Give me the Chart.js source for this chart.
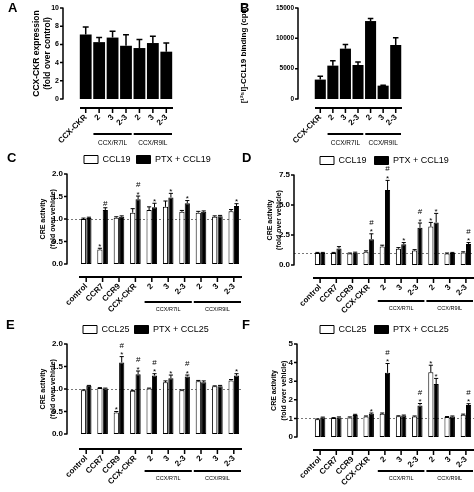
<!DOCTYPE html>
<html><head><meta charset="utf-8">
<script src="https://cdn.jsdelivr.net/npm/chart.js@4.4.0/dist/chart.umd.min.js"></script>
<style>
html,body{margin:0;padding:0;background:#fff;}
#fig{position:relative;width:474px;height:492px;overflow:hidden;background:#fff;}
canvas{position:absolute;}
.lt{position:absolute;font:bold 13px "Liberation Sans",Arial,sans-serif;color:#000;line-height:15px;}
</style></head><body>
<div id="fig">
<canvas id="cA"></canvas><canvas id="cB"></canvas>
<canvas id="cC"></canvas><canvas id="cD"></canvas>
<canvas id="cE"></canvas><canvas id="cF"></canvas>
<div class="lt" style="left:8px;top:0px">A</div>
<div class="lt" style="left:240px;top:0px">B</div>
<div class="lt" style="left:7px;top:150px">C</div>
<div class="lt" style="left:242px;top:150px">D</div>
<div class="lt" style="left:6px;top:317px">E</div>
<div class="lt" style="left:242px;top:317px">F</div>
</div>
<script>
// ---------- DATA ----------
const abLabels = ["CCX-CKR", "2", "3", "2-3", "2", "3", "2-3"];
const aExpression = [7.1, 6.25, 6.75, 5.85, 5.6, 6.15, 5.2];
const aExpressionErr = [0.8, 0.5, 0.7, 1.2, 0.95, 0.75, 0.95];
const bBinding = [3200, 5500, 8300, 5600, 12850, 2200, 8900];
const bBindingErr = [550, 800, 700, 500, 400, 60, 1200];

const cdefLabels = ["control", "CCR7", "CCR9", "CCX-CKR", "2", "3", "2-3", "2", "3", "2-3"];
const groupNames = ["CCX/R7IL", "CCX/R9IL"];

const cCCL19 = [1.0, 0.32, 1.03, 1.14, 1.2, 1.27, 1.16, 1.14, 1.05, 1.17];
const cCCL19Err = [0.02, 0.03, 0.02, 0.09, 0.07, 0.13, 0.03, 0.03, 0.02, 0.04];
const cCCL19Sig = ["", "*", "", "", "", "", "", "", "", ""];
const cPTX = [1.02, 1.2, 1.05, 1.44, 1.26, 1.48, 1.35, 1.16, 1.06, 1.29];
const cPTXErr = [0.02, 0.05, 0.02, 0.07, 0.09, 0.09, 0.06, 0.02, 0.02, 0.05];
const cPTXSig = ["", "#", "", "#*", "*", "*", "*", "", "", "*"];

const dCCL19 = [1.0, 1.0, 0.95, 1.1, 1.55, 1.35, 1.2, 3.2, 0.95, 1.05];
const dCCL19Err = [0.05, 0.05, 0.05, 0.08, 0.1, 0.1, 0.08, 0.35, 0.05, 0.05];
const dCCL19Sig = ["", "", "", "", "", "", "", "*", "", ""];
const dPTX = [1.0, 1.38, 1.02, 2.15, 6.25, 1.72, 3.1, 3.55, 1.0, 1.75];
const dPTXErr = [0.05, 0.15, 0.05, 0.45, 0.8, 0.15, 0.4, 0.75, 0.05, 0.12];
const dPTXSig = ["", "", "", "#*", "#*", "*", "#*", "*", "", "#*"];

const eCCL25 = [0.97, 1.02, 0.48, 0.96, 1.01, 1.15, 0.97, 1.17, 1.06, 1.19];
const eCCL25Err = [0.01, 0.01, 0.02, 0.01, 0.01, 0.03, 0.01, 0.02, 0.01, 0.02];
const eCCL25Sig = ["", "", "*", "", "", "", "", "", "", ""];
const ePTX = [1.07, 1.01, 1.59, 1.33, 1.3, 1.24, 1.28, 1.15, 1.06, 1.3];
const ePTXErr = [0.01, 0.01, 0.13, 0.07, 0.04, 0.07, 0.03, 0.03, 0.02, 0.04];
const ePTXSig = ["", "", "#*", "#*", "#*", "*", "#*", "", "", "*"];

const fCCL25 = [0.95, 1.02, 1.05, 1.1, 1.25, 1.12, 1.1, 3.48, 1.08, 1.2];
const fCCL25Err = [0.02, 0.02, 0.03, 0.03, 0.04, 0.02, 0.03, 0.38, 0.02, 0.03];
const fCCL25Sig = ["", "", "", "", "", "", "", "*", "", ""];
const fPTX = [1.05, 1.05, 1.18, 1.25, 3.45, 1.15, 1.7, 2.85, 1.1, 1.72];
const fPTXErr = [0.02, 0.03, 0.04, 0.04, 0.5, 0.03, 0.1, 0.3, 0.03, 0.07];
const fPTXSig = ["", "", "", "*", "#*", "", "#*", "*", "", "#*"];

const aYTicks = [0, 2, 4, 6, 8, 10];
const bYTicks = [0, 5000, 10000, 15000];
const ceYTicks = [0, 0.5, 1.0, 1.5, 2.0];
const dYTicks = [0, 2.5, 5.0, 7.5];
const fYTicks = [0, 1, 2, 3, 4, 5];

// ---------- RENDERING ----------
const FAM = '"Liberation Sans", Arial, sans-serif';
Chart.defaults.font.family = FAM;
Chart.defaults.color = '#000';

function prismPlugin(s) {
  return {
    id: 'prism_' + s.id,
    beforeDatasetsDraw(chart) {
      if (s.refLine == null) return;
      const {ctx, chartArea: a, scales: {y}} = chart;
      const py = Math.round(y.getPixelForValue(s.refLine)) + 0.5;
      ctx.save();
      ctx.strokeStyle = '#777'; ctx.lineWidth = 1; ctx.setLineDash([2, 2]);
      ctx.beginPath(); ctx.moveTo(s.axisX - s.left, py); ctx.lineTo(a.right, py); ctx.stroke();
      ctx.restore();
    },
    afterDatasetsDraw(chart) {
      const {ctx, scales: {y}} = chart;
      ctx.save();
      chart.data.datasets.forEach((ds, i) => {
        const meta = chart.getDatasetMeta(i);
        const errs = s.errors[i];
        const sig = s.sig ? s.sig[i] : null;
        meta.data.forEach((bar, j) => {
          const v = ds.data[j], e = errs[j];
          const yTop = y.getPixelForValue(v + e);
          const cw = Math.max(bar.width * s.capFrac, 3);
          ctx.strokeStyle = '#000'; ctx.lineWidth = s.errW; ctx.setLineDash([]);
          ctx.beginPath();
          ctx.moveTo(bar.x, bar.y); ctx.lineTo(bar.x, yTop);
          ctx.moveTo(bar.x - cw / 2, yTop); ctx.lineTo(bar.x + cw / 2, yTop);
          ctx.stroke();
          if (sig && sig[j]) {
            ctx.fillStyle = '#000';
            ctx.font = '8px ' + FAM;
            ctx.textAlign = 'center'; ctx.textBaseline = 'alphabetic';
            const chars = sig[j].split('').reverse(); // bottom first
            let base = null;
            chars.forEach((c, k) => {
              if (k === 0) base = c === '*' ? yTop + 0.5 : yTop - 2;
              else base -= 9.5;
              ctx.fillText(c, bar.x, base);
            });
          }
        });
      });
      ctx.restore();
    },
    afterDraw(chart) {
      const {ctx, chartArea: a, scales: {x, y}} = chart;
      const ax = s.axisX - s.left;
      const ay = s.axisY - s.top;
      ctx.save();
      ctx.strokeStyle = '#000'; ctx.setLineDash([]);
      ctx.lineWidth = s.yAxisW;
      ctx.beginPath();
      ctx.moveTo(ax, y.getPixelForValue(y.max) - 0.5); ctx.lineTo(ax, y.getPixelForValue(y.min) + 0.5);
      y.ticks.forEach(t => {
        const py = y.getPixelForValue(t.value);
        ctx.moveTo(ax - 3, py); ctx.lineTo(ax, py);
      });
      ctx.stroke();
      ctx.lineWidth = s.xAxisW;
      ctx.beginPath();
      ctx.moveTo(a.left + 1, ay); ctx.lineTo(a.right, ay);
      ctx.stroke();
      ctx.lineWidth = 1.5;
      ctx.beginPath();
      x.ticks.forEach((t, i) => {
        const px = x.getPixelForTick(i);
        ctx.moveTo(px, ay); ctx.lineTo(px, ay + 5);
      });
      ctx.stroke();
      const n = x.ticks.length;
      const cw = (a.right - a.left) / n;
      ctx.lineWidth = 2;
      ctx.fillStyle = '#000';
      ctx.font = s.groupFont + 'px ' + FAM;
      ctx.textAlign = 'center'; ctx.textBaseline = 'middle';
      s.groups.forEach((g, k) => {
        const x0 = x.getPixelForTick(g[0]) - cw / 2 + 1;
        const x1 = x.getPixelForTick(g[1]) + cw / 2 - 1;
        const gy = s.groupLineY - s.top;
        ctx.beginPath(); ctx.moveTo(x0, gy); ctx.lineTo(x1, gy); ctx.stroke();
        ctx.fillText(groupNames[k], (x0 + x1) / 2, s.groupTextY - s.top);
      });
      ctx.restore();
    }
  };
}

function buildPanel(s) {
  const cv = document.getElementById(s.id);
  const hasLegend = !!s.legend;
  const padT = hasLegend ? 2 : 0;
  const top = hasLegend ? s.area.t - (padT + s.legend.pad + s.legend.font + 10) : 0;
  s.top = top;
  const h = s.bottom - top;
  cv.width = s.w; cv.height = h;
  cv.style.left = s.left + 'px'; cv.style.top = top + 'px';
  cv.style.width = s.w + 'px'; cv.style.height = h + 'px';
  const xLH = s.xFont * 1.2;
  const titleLH = s.titleFont * s.titleLH;
  const cfg = {
    type: 'bar',
    data: { labels: s.labels, datasets: s.datasets },
    options: {
      responsive: false, animation: false, devicePixelRatio: 1,
      layout: { padding: { left: 0, top: hasLegend ? padT : s.area.t - top, right: s.left + s.w - s.area.r, bottom: 0 } },
      plugins: {
        tooltip: { enabled: false },
        legend: hasLegend ? {
          display: true, position: 'top', align: 'start', fullSize: false,
          labels: { boxWidth: 14, boxHeight: 8, padding: s.legend.pad, color: '#000',
                    font: { size: s.legend.font, family: FAM } }
        } : { display: false }
      },
      scales: {
        x: {
          type: 'category', offset: true,
          grid: { display: false, drawTicks: false }, border: { display: false },
          ticks: { autoSkip: false, minRotation: 45, maxRotation: 45, color: '#000',
                   padding: s.xLabelEnd - s.area.b - 0.354 * xLH,
                   font: { size: s.xFont, weight: 'bold', family: FAM, lineHeight: 1.2 } },
          afterFit: sc => { sc.height = s.bottom - s.area.b; sc.paddingLeft = 0; sc.paddingRight = 0; }
        },
        y: {
          type: 'linear', min: s.yTicks[0], max: s.yTicks[s.yTicks.length - 1],
          afterBuildTicks: sc => { sc.ticks = s.yTicks.map(v => ({ value: v })); },
          grid: { display: false, drawTicks: false }, border: { display: false },
          ticks: { color: '#000', padding: s.area.l - s.axisX + 4,
                   font: { size: s.yFont, weight: 'bold', family: FAM },
                   callback: v => s.yDec ? Number(v).toFixed(s.yDec) : String(v) },
          title: { display: true, text: s.title, color: '#000',
                   font: { size: s.titleFont, weight: 'bold', family: FAM, lineHeight: s.titleLH },
                   padding: { top: s.titleX - s.left - titleLH / 2, bottom: 0 } },
          afterFit: sc => { sc.width = s.area.l - s.left; sc.paddingTop = 0; sc.paddingBottom = 0; }
        }
      }
    },
    plugins: [prismPlugin(s)]
  };
  return new Chart(cv, cfg);
}

function blackBars(data, label) {
  return [{ label, data, backgroundColor: '#000', borderWidth: 0, barPercentage: 0.88, categoryPercentage: 1.0 }];
}
function pairBars(d1, l1, d2, l2) {
  return [
    { label: l1, data: d1, backgroundColor: '#fff', borderColor: '#000', borderWidth: 1, borderSkipped: false,
      barPercentage: 0.96, categoryPercentage: 0.66 },
    { label: l2, data: d2, backgroundColor: '#000', borderColor: '#000', borderWidth: 1, borderSkipped: false,
      barPercentage: 0.96, categoryPercentage: 0.66 }
  ];
}

buildPanel({
  id: 'cA', left: 0, w: 237, bottom: 150, area: { l: 79, r: 173, t: 8, b: 99 },
  axisX: 63, axisY: 108, xLabelEnd: 116, groupLineY: 134, groupTextY: 143, groupFont: 6.5,
  labels: abLabels, datasets: blackBars(aExpression, 'CCX-CKR expression'),
  yTicks: aYTicks, yDec: 0, yFont: 7, xFont: 8,
  title: ['CCX-CKR expression', '(fold over control)'], titleFont: 8.5, titleLH: 1.3, titleX: 37,
  errors: [aExpressionErr], capFrac: 0.5, errW: 1.5, yAxisW: 1.5, xAxisW: 2,
  groups: [[1, 3], [4, 6]]
});
buildPanel({
  id: 'cB', left: 237, w: 237, bottom: 150, area: { l: 314, r: 402, t: 8, b: 99 },
  axisX: 298, axisY: 108, xLabelEnd: 116, groupLineY: 134, groupTextY: 143, groupFont: 6.5,
  labels: abLabels, datasets: blackBars(bBinding, 'binding'),
  yTicks: bYTicks, yDec: 0, yFont: 6.5, xFont: 8,
  title: '[\u00B9\u00B2\u2075I]-CCL19 binding (cpm)', titleFont: 8, titleLH: 1.2, titleX: 244,
  errors: [bBindingErr], capFrac: 0.5, errW: 1.5, yAxisW: 1.5, xAxisW: 2,
  groups: [[1, 3], [4, 6]]
});
buildPanel({
  id: 'cC', left: 0, w: 250, bottom: 316, area: { l: 78, r: 242, t: 174, b: 264 },
  axisX: 67, axisY: 277, xLabelEnd: 285, groupLineY: 302, groupTextY: 309, groupFont: 5.5,
  legend: { pad: 6, font: 9 },
  labels: cdefLabels, datasets: pairBars(cCCL19, 'CCL19', cPTX, 'PTX + CCL19'),
  yTicks: ceYTicks, yDec: 1, yFont: 8, xFont: 8, refLine: 1,
  title: ['CRE activity', '(fold over vehicle)'], titleFont: 7, titleLH: 1.43, titleX: 43,
  errors: [cCCL19Err, cPTXErr], sig: [cCCL19Sig, cPTXSig], capFrac: 0.8, errW: 1, yAxisW: 1.5, xAxisW: 2,
  groups: [[4, 6], [7, 9]]
});
buildPanel({
  id: 'cD', left: 237, w: 237, bottom: 316, area: { l: 312, r: 474, t: 175, b: 265 },
  axisX: 294, axisY: 278, xLabelEnd: 286, groupLineY: 301, groupTextY: 308, groupFont: 5.5,
  legend: { pad: 8, font: 9 },
  labels: cdefLabels, datasets: pairBars(dCCL19, 'CCL19', dPTX, 'PTX + CCL19'),
  yTicks: dYTicks, yDec: 1, yFont: 8, xFont: 8, refLine: 1,
  title: ['CRE activity', '(fold over vehicle)'], titleFont: 7, titleLH: 1.3, titleX: 270,
  errors: [dCCL19Err, dPTXErr], sig: [dCCL19Sig, dPTXSig], capFrac: 0.8, errW: 1, yAxisW: 1.5, xAxisW: 2,
  groups: [[4, 6], [7, 9]]
});
buildPanel({
  id: 'cE', left: 0, w: 250, bottom: 492, area: { l: 78, r: 242, t: 344, b: 434 },
  axisX: 67, axisY: 449, xLabelEnd: 457, groupLineY: 471, groupTextY: 478, groupFont: 5.5,
  legend: { pad: 5, font: 9 },
  labels: cdefLabels, datasets: pairBars(eCCL25, 'CCL25', ePTX, 'PTX + CCL25'),
  yTicks: ceYTicks, yDec: 1, yFont: 8, xFont: 8, refLine: 1,
  title: ['CRE activity', '(fold over vehicle)'], titleFont: 7, titleLH: 1.43, titleX: 43,
  errors: [eCCL25Err, ePTXErr], sig: [eCCL25Sig, ePTXSig], capFrac: 0.8, errW: 1, yAxisW: 1.5, xAxisW: 2,
  groups: [[4, 6], [7, 9]]
});
buildPanel({
  id: 'cF', left: 237, w: 237, bottom: 492, area: { l: 312, r: 474, t: 344, b: 437 },
  axisX: 297, axisY: 450, xLabelEnd: 458, groupLineY: 471, groupTextY: 478, groupFont: 5.5,
  legend: { pad: 8, font: 9 },
  labels: cdefLabels, datasets: pairBars(fCCL25, 'CCL25', fPTX, 'PTX + CCL25'),
  yTicks: fYTicks, yDec: 0, yFont: 8, xFont: 8, refLine: 1,
  title: ['CRE activity', '(fold over vehicle)'], titleFont: 7, titleLH: 1.43, titleX: 274,
  errors: [fCCL25Err, fPTXErr], sig: [fCCL25Sig, fPTXSig], capFrac: 0.8, errW: 1, yAxisW: 1.5, xAxisW: 2,
  groups: [[4, 6], [7, 9]]
});
</script>
</body></html>
